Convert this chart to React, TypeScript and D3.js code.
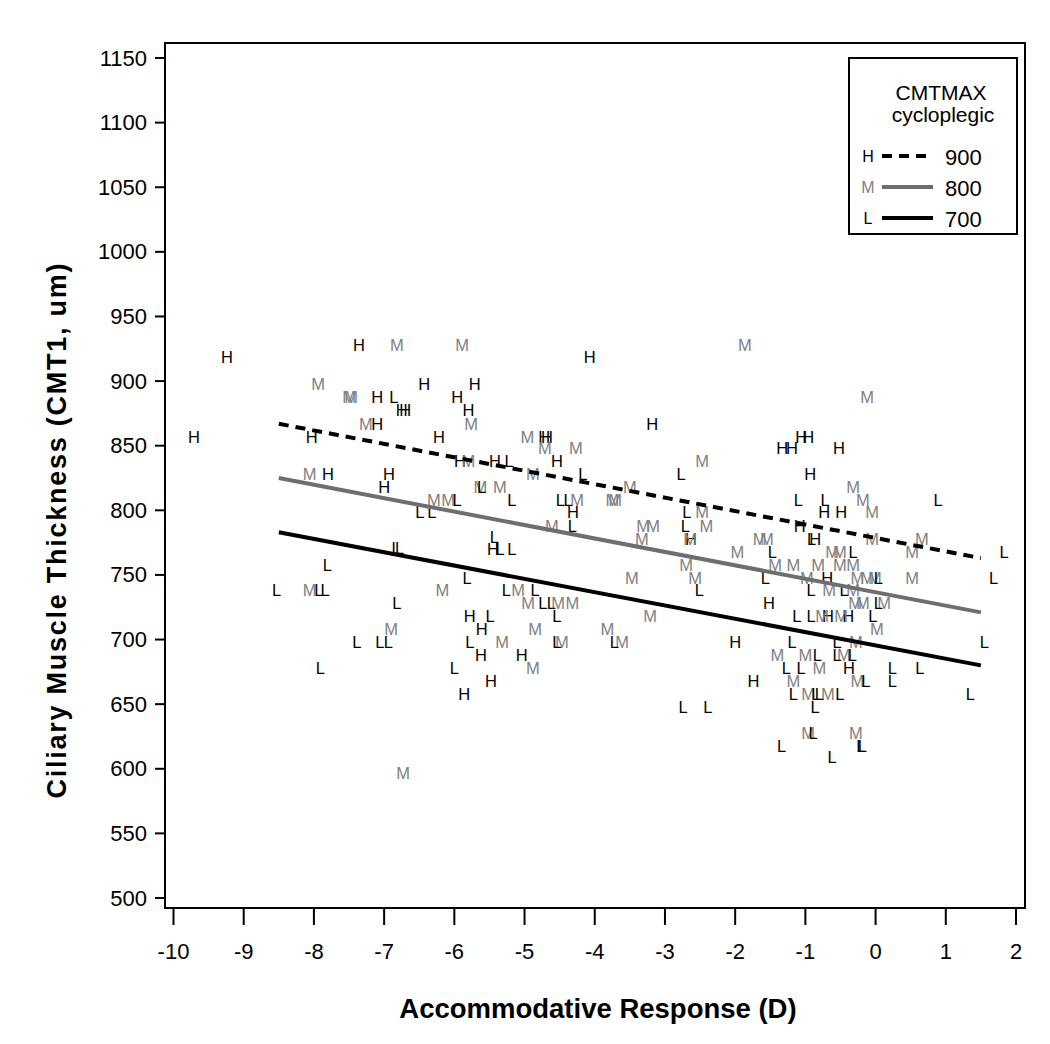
import React from "react";
import * as d3 from "d3";

// Data (Accommodative Response D, CMT1 um)
const hPoints: [number, number][] = [
  [-9.24, 919], [-7.36, 928], [-9.71, 857], [-8.03, 857], [-7.10, 888], [-6.43, 898],
  [-6.75, 878], [-6.70, 878], [-5.96, 888], [-7.10, 867], [-6.22, 857], [-7.80, 828],
  [-6.93, 828], [-7.00, 818], [-5.71, 898], [-5.80, 878], [-4.07, 919], [-4.72, 857],
  [-4.68, 857], [-3.18, 867], [-5.92, 838], [-5.42, 838], [-4.54, 838], [-4.31, 799],
  [-5.45, 770], [-2.63, 778], [-5.78, 718], [-5.61, 708], [-5.62, 688], [-5.04, 688],
  [-5.48, 668], [-5.86, 658], [-2.00, 698], [-1.06, 857], [-0.96, 857], [-1.33, 848],
  [-1.19, 848], [-0.52, 848], [-0.93, 828], [-0.73, 799], [-0.49, 799], [-1.08, 788],
  [-0.86, 778], [-0.69, 748], [-1.52, 728], [-0.68, 718], [-0.39, 718], [-0.38, 678],
  [-1.74, 668],
];

const mPoints: [number, number][] = [
  [-6.82, 928], [-5.89, 928], [-1.86, 928], [-7.94, 898], [-7.50, 888], [-7.47, 888],
  [-7.26, 867], [-5.76, 867], [-0.12, 888], [-4.96, 857], [-4.71, 848], [-4.27, 848],
  [-5.80, 838], [-8.06, 828], [-4.88, 828], [-2.47, 838], [-6.29, 808], [-6.09, 808],
  [-5.63, 818], [-5.35, 818], [-3.50, 818], [-4.25, 808], [-3.75, 808], [-3.71, 808],
  [-2.47, 799], [-4.61, 788], [-3.31, 788], [-3.17, 788], [-2.41, 788], [-3.33, 778],
  [-2.64, 778], [-1.97, 768], [-2.70, 758], [-2.57, 748], [-3.47, 748], [-3.21, 718],
  [-8.06, 738], [-6.17, 738], [-6.90, 708], [-6.73, 597], [-5.09, 738], [-4.95, 728],
  [-4.52, 728], [-4.32, 728], [-4.85, 708], [-3.82, 708], [-5.32, 698], [-4.47, 698],
  [-3.61, 698], [-4.88, 678], [-0.32, 818], [-0.18, 808], [-0.05, 799], [-1.65, 778],
  [-1.55, 778], [-0.05, 778], [0.66, 778], [0.52, 768], [-0.62, 768], [-0.51, 768],
  [-1.43, 758], [-1.17, 758], [-0.82, 758], [-0.51, 758], [-0.32, 758], [-0.98, 748],
  [-0.26, 748], [-0.12, 748], [-0.01, 748], [0.52, 748], [-0.66, 738], [-0.32, 738],
  [-0.29, 728], [-0.18, 728], [0.12, 728], [-0.76, 718], [-0.49, 718], [0.02, 708],
  [-0.28, 698], [-1.40, 688], [-1.00, 688], [-0.45, 688], [-0.80, 678], [-1.17, 668],
  [-0.26, 668], [-0.96, 658], [-0.68, 658], [-0.96, 628], [-0.28, 628],
];

const lPoints: [number, number][] = [
  [-6.86, 888], [-5.22, 838], [-4.17, 828], [-2.77, 828], [-5.61, 818], [-5.96, 808],
  [-5.18, 808], [-4.49, 808], [-4.38, 808], [-6.49, 799], [-6.32, 799], [-2.69, 799],
  [-4.32, 788], [-2.71, 788], [-5.43, 779], [-5.35, 770], [-5.18, 770], [-6.83, 771],
  [-6.78, 771], [-7.81, 758], [-8.53, 738], [-7.93, 738], [-7.84, 738], [-5.82, 748],
  [-6.82, 728], [-7.39, 698], [-7.06, 698], [-6.94, 698], [-7.91, 678], [-6.00, 678],
  [-5.26, 738], [-4.85, 738], [-4.74, 728], [-4.62, 728], [-5.49, 718], [-4.54, 718],
  [-5.78, 698], [-4.54, 698], [-3.72, 698], [-2.74, 648], [-2.39, 648], [-2.51, 738],
  [-1.10, 808], [-0.72, 808], [0.89, 808], [-1.47, 768], [-0.32, 768], [1.83, 768],
  [-1.57, 748], [0.04, 748], [1.68, 748], [-0.92, 738], [-0.45, 738], [0.04, 728],
  [-1.12, 718], [-0.92, 718], [-0.04, 718], [-1.19, 698], [-0.55, 698], [1.55, 698],
  [-0.83, 688], [-0.55, 688], [-0.33, 688], [-1.27, 678], [-1.06, 678], [0.24, 678],
  [0.63, 678], [-0.14, 668], [0.24, 668], [-1.17, 658], [-0.85, 658], [-0.80, 658],
  [-0.51, 658], [1.35, 658], [-0.86, 648], [-0.89, 628], [-1.34, 618], [-0.21, 618],
  [-0.19, 618], [-0.62, 609], [-0.91, 778],
];

// Fitted lines at CMTMAX cycloplegic = 900 / 800 / 700
const fitLabels = ["900", "800", "700"];
const fitSymbols = ["H", "M", "L"];
const fitStart = [867, 825, 783];
const fitEnd = [763, 721, 680];
const fitRange: [number, number] = [-8.5, 1.5];

const xTicks = d3.range(-10, 3, 1);
const yTicks = d3.range(500, 1151, 50);

const FONT = "'Liberation Sans', Arial, Helvetica, sans-serif";
const GRAY = "#808080";

export default function App() {
  const W = 1050, H = 1044;
  const frame = { left: 165, top: 43, right: 1025, bottom: 908 };
  const x = d3.scaleLinear().domain([-10, 2]).range([173.5, 1016]);
  const y = d3.scaleLinear().domain([500, 1150]).range([898, 58]);

  const styles = [
    { color: "#000", dash: "10,7", symbolColor: "#000" },
    { color: "#6e6e6e", dash: null, symbolColor: GRAY },
    { color: "#000", dash: null, symbolColor: "#000" },
  ];

  const line = d3.line<[number, number]>().x(d => x(d[0])).y(d => y(d[1]));

  const groups = [
    { pts: hPoints, sym: "H", color: "#000" },
    { pts: mPoints, sym: "M", color: GRAY },
    { pts: lPoints, sym: "L", color: "#000" },
  ];

  return (
    <svg width={W} height={H} style={{ position: "absolute", left: 0, top: 0, background: "#fff" }}
      fontFamily={FONT}>
      <rect x={0} y={0} width={W} height={H} fill="#fff" />
      {groups.map(g =>
        g.pts.map((p, i) => (
          <text key={g.sym + i} x={x(p[0])} y={y(p[1])} textAnchor="middle" dominantBaseline="central"
            fontSize={16.5} fill={g.color}>{g.sym}</text>
        ))
      )}
      {fitLabels.map((lab, i) => (
        <path key={lab} d={line([[fitRange[0], fitStart[i]], [fitRange[1], fitEnd[i]]]) || ""}
          stroke={styles[i].color} strokeWidth={4} fill="none"
          strokeDasharray={styles[i].dash || undefined} />
      ))}
      <rect x={frame.left} y={frame.top} width={frame.right - frame.left} height={frame.bottom - frame.top}
        fill="none" stroke="#000" strokeWidth={2} />
      {yTicks.map(t => (
        <g key={t}>
          <line x1={frame.left - 10} x2={frame.left} y1={y(t)} y2={y(t)} stroke="#000" strokeWidth={2} />
          <text x={frame.left - 18} y={y(t)} textAnchor="end" dominantBaseline="central" fontSize={22}>{t}</text>
        </g>
      ))}
      {xTicks.map(t => (
        <g key={t}>
          <line x1={x(t)} x2={x(t)} y1={frame.bottom} y2={frame.bottom + 17} stroke="#000" strokeWidth={2} />
          <text x={x(t)} y={951} textAnchor="middle" dominantBaseline="central" fontSize={22}>{t}</text>
        </g>
      ))}
      <text x={598} y={1008} textAnchor="middle" dominantBaseline="central" fontSize={27.5} fontWeight="bold">
        Accommodative Response (D)
      </text>
      <text transform="translate(57,531) rotate(-90)" textAnchor="middle" dominantBaseline="central"
        fontSize={27} fontWeight="bold" textLength={535} lengthAdjust="spacing">
        Ciliary Muscle Thickness (CMT1, um)
      </text>
      <rect x={849} y={58} width={168} height={176} fill="#fff" stroke="#000" strokeWidth={2} />
      <text x={941} y={92} textAnchor="middle" dominantBaseline="central" fontSize={21}>CMTMAX</text>
      <text x={943} y={114} textAnchor="middle" dominantBaseline="central" fontSize={21}>cycloplegic</text>
      {fitLabels.map((lab, i) => {
        const ly = 156 + i * 31;
        return (
          <g key={lab}>
            <text x={868} y={ly} textAnchor="middle" dominantBaseline="central" fontSize={16}
              fill={styles[i].symbolColor}>{fitSymbols[i]}</text>
            <line x1={882} x2={933} y1={ly} y2={ly} stroke={styles[i].color} strokeWidth={4}
              strokeDasharray={styles[i].dash || undefined} />
            <text x={945} y={ly + 1} dominantBaseline="central" fontSize={22}>{lab}</text>
          </g>
        );
      })}
    </svg>
  );
}
